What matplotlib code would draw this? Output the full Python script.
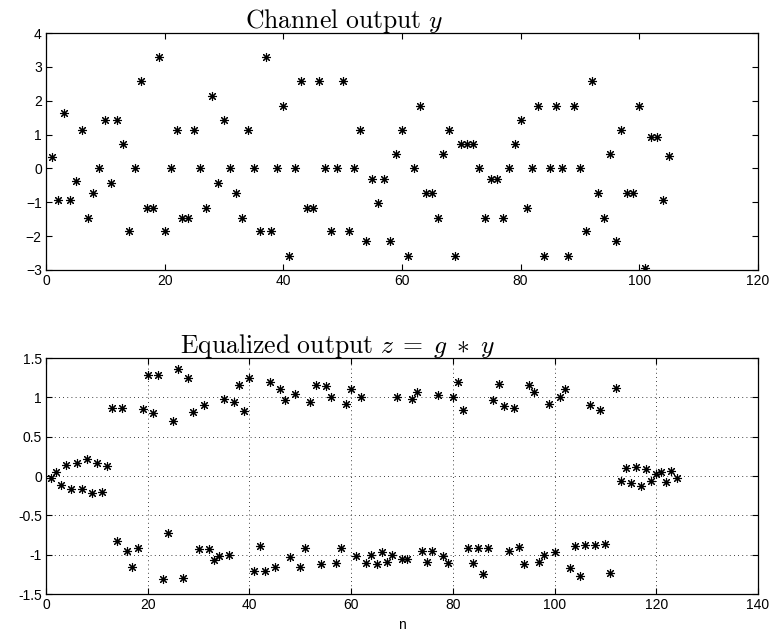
import numpy as np
import matplotlib
matplotlib.use('Agg')
import matplotlib.pyplot as plt
from matplotlib.ticker import FuncFormatter

plt.rcParams['font.family'] = ['Liberation Sans', 'DejaVu Sans']
plt.rcParams['mathtext.fontset'] = 'cm'

# channel output y[n], n = 1..105
y_vals = [0.35, -0.94, 1.63, -0.94, -0.38, 1.14, -1.45, -0.72, 0, 1.43,
          -0.43, 1.43, 0.71, -1.86, 0, 2.57, -1.16, -1.16, 3.29, -1.86,
          0, 1.14, -1.45, -1.45, 1.14, 0, -1.16, 2.14, -0.43, 1.43,
          0, -0.72, -1.45, 1.14, 0, -1.86, 3.29, -1.86, 0, 1.85,
          -2.6, 0, 2.57, -1.16, -1.16, 2.57, 0, -1.86, 0, 2.57,
          -1.86, 0, 1.14, -2.15, -0.31, -1.01, -0.31, -2.15, 0.43, 1.14,
          -2.6, 0, 1.85, -0.72, -0.72, -1.45, 0.43, 1.14, -2.6, 0.71,
          0.71, 0.71, 0, -1.45, -0.31, -0.31, -1.45, 0, 0.71, 1.43,
          -1.16, 0, 1.85, -2.6, 0, 1.85, 0, -2.6, 1.85, 0,
          -1.86, 2.57, -0.72, -1.45, 0.43, -2.15, 1.14, -0.72, -0.72, 1.85,
          -2.94, 0.93, 0.93, -0.94, 0.37]

# equalized output z[n], n = 1..124
z_vals = [-0.02, 0.05, -0.11, 0.14, -0.17, 0.17, -0.17, 0.22, -0.22, 0.17,
          -0.2, 0.13, 0.87, -0.82, 0.87, -0.95, -1.16, -0.91, 0.85, 1.28,
          0.8, 1.29, -1.31, -0.72, 0.7, 1.36, -1.29, 1.25, 0.81, -0.93,
          0.9, -0.93, -1.07, -1.02, 0.98, -1.01, 0.94, 1.16, 0.83, 1.25,
          -1.21, -0.89, -1.21, 1.19, -1.16, 1.11, 0.97, -1.03, 1.04, -1.16,
          -0.91, 0.94, 1.16, -1.12, 1.15, 1.01, -1.1, -0.91, 0.91, 1.11,
          -1.02, 1.0, -1.1, -1.0, -1.12, -0.97, -1.09, -1.01, 1.0, -1.05,
          -1.05, 0.98, 1.07, -0.95, -1.09, -0.95, 1.03, -1.02, -1.1, 1.0,
          1.19, 0.84, -0.92, -1.11, -0.91, -1.25, -0.91, 0.97, 1.17, 0.89,
          -0.95, 0.87, -0.9, -1.12, 1.16, 1.07, -1.09, -1.0, 0.91, -0.96,
          1.0, 1.11, -1.17, -0.89, -1.27, -0.88, 0.9, -0.88, 0.84, -0.87,
          -1.23, 1.12, -0.06, 0.1, -0.09, 0.12, -0.13, 0.09, -0.06, 0.03,
          0.05, -0.08, 0.06, -0.02]

n_y = np.arange(1, len(y_vals) + 1)
n_z = np.arange(1, len(z_vals) + 1)

top_title = r'$\mathrm{Channel\ output}\ y$'
bot_title = r'$\mathrm{Equalized\ output}\ z\;=\;g\;*\;y$'

fig = plt.figure(figsize=(7.73, 6.36), dpi=100)
ax1 = fig.add_axes([0.0595, 0.5755, 0.921, 0.3726])
ax2 = fig.add_axes([0.0595, 0.066, 0.921, 0.371])

ast = (8, 2, 0)  # matlab-like asterisk
for ax, n, v in [(ax1, n_y, y_vals), (ax2, n_z, z_vals)]:
    ax.plot(n, v, linestyle='none', marker=ast, markersize=6.5,
            markeredgewidth=0.8, color='black')
    ax.tick_params(direction='in', top=True, right=True, length=4,
                   width=0.8, labelsize=10, pad=3)
    for s in ax.spines.values():
        s.set_linewidth(0.9)

ax1.set_xlim(0, 120)
ax1.set_ylim(-3, 4)
ax1.set_xticks(np.arange(0, 121, 20))
ax1.set_yticks(np.arange(-3, 5, 1))
ax1.text(0.419, 1.02, top_title, transform=ax1.transAxes, ha='center',
         va='baseline', fontsize=18.5)

ax2.set_xlim(0, 140)
ax2.set_ylim(-1.5, 1.5)
ax2.set_xticks(np.arange(0, 141, 20))
ax2.set_yticks(np.arange(-1.5, 1.51, 0.5))
ax2.yaxis.set_major_formatter(FuncFormatter(lambda v, p: '%g' % v))
ax2.grid(True, linestyle=(0, (1, 4)), color='black', linewidth=0.6)
ax2.text(0.409, 1.02, bot_title, transform=ax2.transAxes, ha='center',
         va='baseline', fontsize=18.5)
ax2.set_xlabel('n', fontsize=10, labelpad=4)

fig.savefig('out.png', dpi=100)
